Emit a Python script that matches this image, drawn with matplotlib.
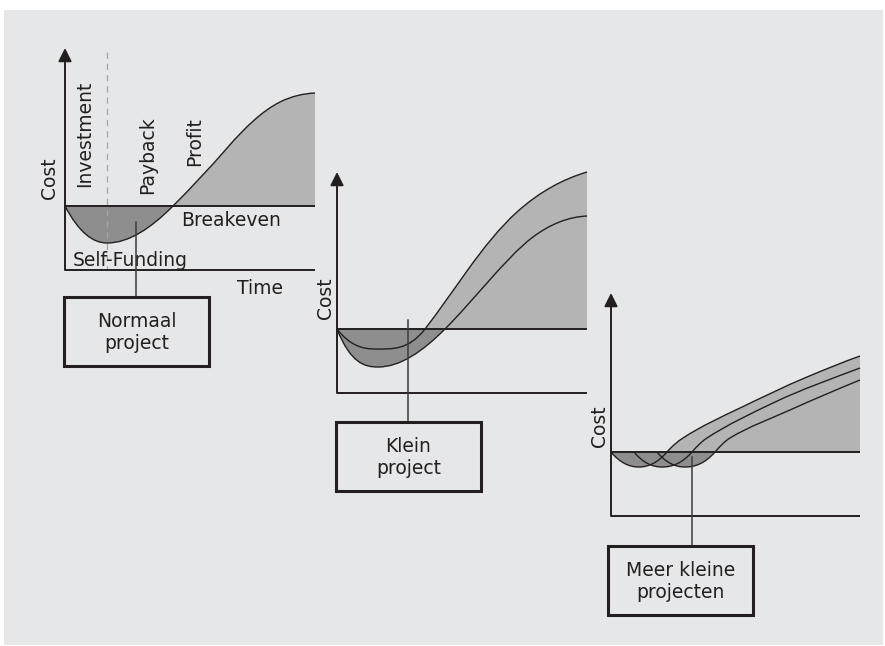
import matplotlib
matplotlib.use("Agg")
import matplotlib.pyplot as plt
from matplotlib.path import Path
from matplotlib.patches import PathPatch, Rectangle

# curve knots: t = px right of the cost axis, c = px above breakeven, s = slope dc/dt
normaal_t = [0, 42, 108, 163, 215, 250]
normaal_c = [0, -37, 0, 59, 104, 113]
normaal_s = [-1.9, 0, 1.0, 1.15, 0.5, 0.05]

klein_hi_t = [0, 38, 88, 130, 180, 250]
klein_hi_c = [0, -20, 0, 58, 117, 157]
klein_hi_s = [-1.3, 0, 1.3, 1.4, 0.9, 0.3]

klein_lo_t = [0, 41, 108, 150, 196, 250]
klein_lo_c = [0, -38, 0, 46, 92, 113]
klein_lo_s = [-2.5, 0, 1.0, 1.12, 0.75, 0.05]

meer1_t = [0, 28, 56, 72, 129, 196, 249]
meer1_c = [0, -15, 0, 14, 44, 75, 96]
meer1_s = [-1.2, 0, 1.15, 0.65, 0.48, 0.42, 0.36]

meer2_t = [23, 51, 81, 96, 162, 249]
meer2_c = [0, -15, 0, 14, 49, 84]
meer2_s = [-1.2, 0, 1.15, 0.65, 0.48, 0.38]

meer3_t = [46, 74, 104, 119, 179, 249]
meer3_c = [0, -15, 0, 14, 42, 72]
meer3_s = [-1.2, 0, 1.15, 0.6, 0.45, 0.41]

phase_labels = ["Investment", "Payback", "Profit"]
box_labels = ["Normaal\nproject", "Klein\nproject", "Meer kleine\nprojecten"]

BG = "#e6e7e8"
DARK = "#8e8e8f"
LIGHT = "#b4b4b5"
INK = "#231f20"
FS = 13.5


def segments(t, c, s, x0, yb, i0, i1):
    verts = [(x0 + t[i0], yb - c[i0])]
    codes = [Path.MOVETO]
    for i in range(i0, i1):
        d = (t[i + 1] - t[i]) / 3.0
        verts += [(x0 + t[i] + d, yb - (c[i] + s[i] * d)),
                  (x0 + t[i + 1] - d, yb - (c[i + 1] - s[i + 1] * d)),
                  (x0 + t[i + 1], yb - c[i + 1])]
        codes += [Path.CURVE4] * 3
    return verts, codes


def draw_curve(ax, t, c, s, x0, yb):
    v, cd = segments(t, c, s, x0, yb, 0, len(t) - 1)
    ax.add_patch(PathPatch(Path(v, cd), fill=False, ec=INK, lw=1.0, zorder=4))


def fill_dip(ax, t, c, s, x0, yb):
    k = c.index(0, 1)
    v, cd = segments(t, c, s, x0, yb, 0, k)
    v += [v[0]]
    cd += [Path.CLOSEPOLY]
    ax.add_patch(PathPatch(Path(v, cd), fc=DARK, ec="none", zorder=2))


def fill_rise(ax, t, c, s, x0, yb):
    k = c.index(0, 1)
    v, cd = segments(t, c, s, x0, yb, k, len(t) - 1)
    v += [(x0 + t[-1], yb), v[0]]
    cd += [Path.LINETO, Path.CLOSEPOLY]
    ax.add_patch(PathPatch(Path(v, cd), fc=LIGHT, ec="none", zorder=2))


def frame(ax, x0, yb, ybase, top, right, cost_xy):
    ax.plot([x0, right], [ybase, ybase], color=INK, lw=1.4, zorder=5, solid_capstyle="butt")
    ax.plot([x0, right], [yb, yb], color=INK, lw=1.4, zorder=5, solid_capstyle="butt")
    ax.annotate("", xy=(x0, top), xytext=(x0, ybase),
                arrowprops=dict(arrowstyle="-|>", color=INK, lw=1.4,
                                mutation_scale=20, shrinkA=0, shrinkB=0), zorder=6)
    ax.text(cost_xy[0], cost_xy[1], "Cost", rotation=90, ha="center", va="center",
            fontsize=FS, color=INK)


def label_box(ax, x, y, w, h, text, line_top, line_x):
    ax.plot([line_x, line_x], [line_top, y], color="#3c3c3c", lw=1.1, zorder=6)
    ax.add_patch(Rectangle((x, y), w, h, fc="none", ec=INK, lw=2.2, zorder=6))
    ax.text(x + w / 2, y + h / 2 + 1, text, ha="center", va="center",
            fontsize=FS, color=INK, linespacing=1.15, zorder=7)


fig = plt.figure(figsize=(8.85, 6.46), dpi=100)
fig.patch.set_facecolor("white")
ax = fig.add_axes([0, 0, 1, 1])
ax.set_xlim(0, 885)
ax.set_ylim(646, 0)
ax.axis("off")
ax.add_patch(Rectangle((4, 10), 879, 635, fc=BG, ec="none", zorder=0))

# panel 1 - normaal project
x0, yb = 65, 206
fill_dip(ax, normaal_t, normaal_c, normaal_s, x0, yb)
fill_rise(ax, normaal_t, normaal_c, normaal_s, x0, yb)
ax.plot([107, 107], [52, 270], color="#a5a5a5", lw=0.9, ls=(0, (5, 4)), zorder=3)
draw_curve(ax, normaal_t, normaal_c, normaal_s, x0, yb)
frame(ax, x0, yb, 270, 48, 315, (50, 178))
for lab, px, py in zip(phase_labels, [85, 148, 195], [134, 155, 142]):
    ax.text(px, py, lab, rotation=90, ha="center", va="center", fontsize=FS, color=INK)
ax.text(181, 221, "Breakeven", ha="left", va="center", fontsize=FS, color=INK)
ax.text(73, 260, "Self-Funding", ha="left", va="center", fontsize=FS, color=INK)
ax.text(237, 288, "Time", ha="left", va="center", fontsize=FS, color=INK)
label_box(ax, 64, 297, 145, 69, box_labels[0], 222, 136)

# panel 2 - klein project
x0, yb = 337, 329
fill_dip(ax, klein_lo_t, klein_lo_c, klein_lo_s, x0, yb)
fill_rise(ax, klein_hi_t, klein_hi_c, klein_hi_s, x0, yb)
draw_curve(ax, klein_hi_t, klein_hi_c, klein_hi_s, x0, yb)
draw_curve(ax, klein_lo_t, klein_lo_c, klein_lo_s, x0, yb)
frame(ax, x0, yb, 393, 172, 587, (326, 298))
label_box(ax, 336, 422, 145, 69, box_labels[1], 320, 408)

# panel 3 - meer kleine projecten
x0, yb = 611, 452
meer = [(meer1_t, meer1_c, meer1_s), (meer2_t, meer2_c, meer2_s), (meer3_t, meer3_c, meer3_s)]
for t, c, s in meer:
    fill_dip(ax, t, c, s, x0, yb)
fill_rise(ax, meer1_t, meer1_c, meer1_s, x0, yb)
for t, c, s in meer:
    draw_curve(ax, t, c, s, x0, yb)
frame(ax, x0, yb, 516, 293, 860, (599, 426))
label_box(ax, 608, 546, 145, 69, box_labels[2], 457, 692)

fig.savefig("out.png", dpi=100, facecolor=fig.get_facecolor())
